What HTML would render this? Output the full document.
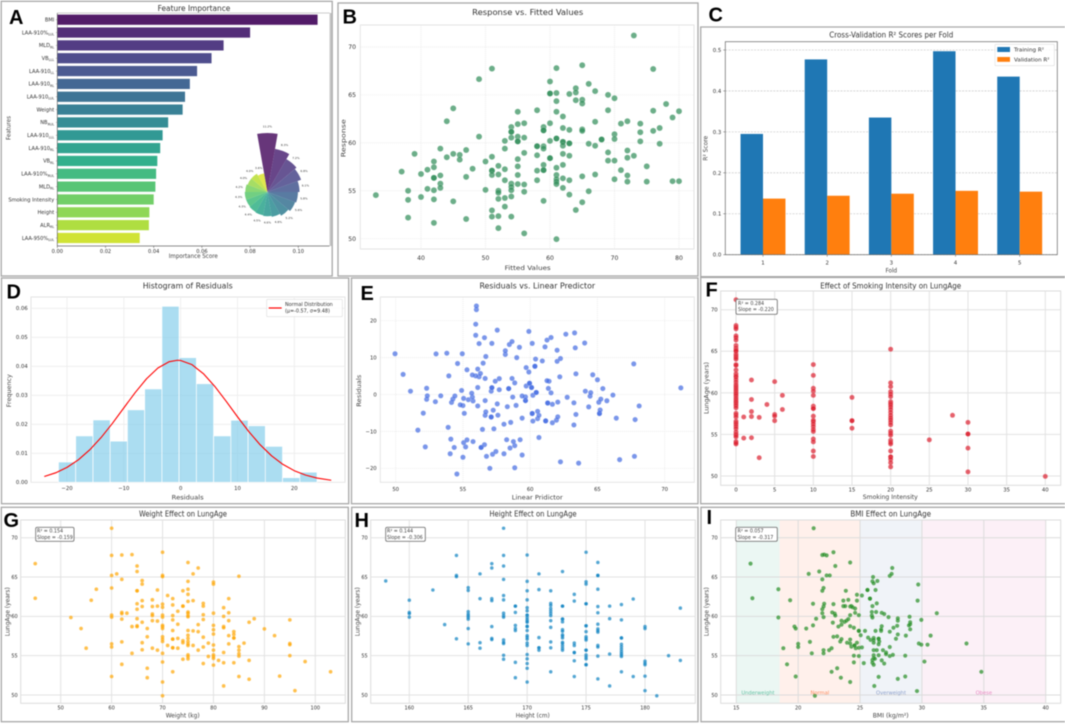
<!DOCTYPE html>
<html lang="en">
<head>
<meta charset="utf-8">
<title>Lung age model figure</title>
<style>
html,body{margin:0;padding:0;background:#fff;}
svg{display:block;filter:blur(0.45px);}
text{font-family:"DejaVu Sans","Liberation Sans",sans-serif;fill:#333;}
.letter{font-family:"Liberation Sans",sans-serif;font-weight:bold;font-size:20px;fill:#000;}
.frame{fill:none;stroke:#a8a8a8;stroke-width:1.3;}
.title{font-size:8px;text-anchor:middle;}
.axl{font-size:6.2px;text-anchor:middle;fill:#444;}
.note{font-size:4.8px;fill:#444;}
.box{fill:#fff;stroke:#777;stroke-width:.9;}
</style>
</head>
<body>
<svg id="figure" xmlns="http://www.w3.org/2000/svg" width="1065" height="724" viewBox="0 0 1065 724">
<rect x="0" y="0" width="1065" height="724" fill="#fff"/>

<g>
  <rect class="frame" x="1.2" y="1.3" width="331" height="274.7"/>
  <rect x="329.6" y="13" width="2" height="233" fill="#c4c4c4"/>
  <g id="plot-a"></g>
  <g id="plot-a-inset"></g>
  <text class="letter" x="9" y="24">A</text>
  <text class="title" x="194" y="10.8" textLength="72.7" lengthAdjust="spacingAndGlyphs">Feature Importance</text>
  <text class="axl" x="193.3" y="258" textLength="49" lengthAdjust="spacingAndGlyphs">Importance Score</text>
  <text class="axl" transform="translate(10.5,128) rotate(-90)" textLength="24" lengthAdjust="spacingAndGlyphs">Features</text>
</g>

<g>
  <rect class="frame" x="338" y="3" width="360" height="273"/>
  <g id="plot-b"></g>
  <text class="letter" x="342.5" y="23.5">B</text>
  <text class="title" x="527.7" y="15" textLength="111" lengthAdjust="spacingAndGlyphs">Response vs. Fitted Values</text>
  <text class="axl" x="527.7" y="270" textLength="46" lengthAdjust="spacingAndGlyphs">Fitted Values</text>
  <text class="axl" transform="translate(345.7,138.3) rotate(-90)" textLength="38" lengthAdjust="spacingAndGlyphs">Response</text>
</g>

<g>
  <path class="frame" d="M1065 27H700.7V276.6H1065"/>
  <g id="plot-c"></g>
  <text class="letter" x="708.5" y="21.7">C</text>
  <text class="title" x="891.3" y="37.7" textLength="124" lengthAdjust="spacingAndGlyphs">Cross-Validation R² Scores per Fold</text>
  <text class="axl" x="891.3" y="272.7" textLength="11.7" lengthAdjust="spacingAndGlyphs">Fold</text>
  <text class="axl" transform="translate(707.3,148.3) rotate(-90)" textLength="25" lengthAdjust="spacingAndGlyphs">R² Score</text>
  <g>
    <rect x="995" y="44.3" width="59.3" height="21.4" rx="1" fill="#fff" fill-opacity=".85" stroke="#ddd" stroke-width=".6"/>
    <rect x="997.3" y="47" width="12.7" height="5" fill="#1f77b4"/>
    <text x="1014" y="51.7" font-size="5.6">Training R²</text>
    <rect x="997.3" y="57" width="12.7" height="4.8" fill="#ff7f0e"/>
    <text x="1014" y="61.3" font-size="5.6">Validation R²</text>
  </g>
</g>

<g>
  <rect class="frame" x="1.5" y="278" width="347.2" height="225.7"/>
  <g id="plot-d"></g>
  <text class="letter" x="6.5" y="298.3">D</text>
  <text class="title" x="187.7" y="288.7" textLength="90" lengthAdjust="spacingAndGlyphs">Histogram of Residuals</text>
  <text class="axl" x="187.7" y="499.3" textLength="32" lengthAdjust="spacingAndGlyphs">Residuals</text>
  <text class="axl" transform="translate(11,390.7) rotate(-90)" textLength="33" lengthAdjust="spacingAndGlyphs">Frequency</text>
  <g>
    <rect x="266.7" y="299.3" width="75.6" height="17.4" rx="1" fill="#fff" fill-opacity=".9" stroke="#ddd" stroke-width=".6"/>
    <line x1="268.7" x2="281.7" y1="308" y2="308" stroke="#f00" stroke-width="1.2"/>
    <text x="285" y="306" font-size="4.9">Normal Distribution</text>
    <text x="285" y="312.7" font-size="4.9">(μ=-0.57, σ=9.48)</text>
  </g>
</g>

<g>
  <rect class="frame" x="351.5" y="278" width="346.5" height="225.7"/>
  <g id="plot-e"></g>
  <text class="letter" x="360.5" y="300">E</text>
  <text class="title" x="537.3" y="288.7" textLength="115.7" lengthAdjust="spacingAndGlyphs">Residuals vs. Linear Predictor</text>
  <text class="axl" x="537.3" y="499.3" textLength="51" lengthAdjust="spacingAndGlyphs">Linear Pridictor</text>
  <text class="axl" transform="translate(361,390.7) rotate(-90)" textLength="32" lengthAdjust="spacingAndGlyphs">Residuals</text>
</g>

<g>
  <path class="frame" d="M1065 277.5H700.7V503.7H1065"/>
  <g id="plot-f"></g>
  <text class="letter" x="705.5" y="296.7">F</text>
  <text class="title" x="890.7" y="288.3" textLength="141" lengthAdjust="spacingAndGlyphs">Effect of Smoking Intensity on LungAge</text>
  <text class="axl" x="890.3" y="499" textLength="55" lengthAdjust="spacingAndGlyphs">Smoking Intensity</text>
  <text class="axl" transform="translate(708.7,388) rotate(-90)" textLength="52" lengthAdjust="spacingAndGlyphs">LungAge (years)</text>
  <g>
    <rect class="box" x="736" y="299.3" width="41.3" height="15" rx="1.5"/>
    <text class="note" x="738" y="304.9">R² = 0.284</text>
    <text class="note" x="738" y="311">Slope = -0.220</text>
  </g>
</g>

<g>
  <rect class="frame" x="1.3" y="507.3" width="347" height="214.4"/>
  <g id="plot-g"></g>
  <text class="letter" x="3.5" y="527">G</text>
  <text class="title" x="183" y="516.7" textLength="88" lengthAdjust="spacingAndGlyphs">Weight Effect on LungAge</text>
  <text class="axl" x="182.7" y="717.3" textLength="34" lengthAdjust="spacingAndGlyphs">Weight (kg)</text>
  <text class="axl" transform="translate(9.6,611.7) rotate(-90)" textLength="49" lengthAdjust="spacingAndGlyphs">LungAge (years)</text>
  <g>
    <rect class="box" x="35.7" y="527.3" width="38.3" height="14" rx="1.5"/>
    <text class="note" x="37" y="532.4" font-size="4.5">R² = 0.154</text>
    <text class="note" x="37" y="538.9">Slope = -0.159</text>
  </g>
</g>

<g>
  <rect class="frame" x="351.7" y="507.3" width="346.3" height="214.4"/>
  <g id="plot-h"></g>
  <text class="letter" x="354.5" y="527">H</text>
  <text class="title" x="533" y="516.7" textLength="87.3" lengthAdjust="spacingAndGlyphs">Height Effect on LungAge</text>
  <text class="axl" x="532.7" y="717.3" textLength="34" lengthAdjust="spacingAndGlyphs">Height (cm)</text>
  <text class="axl" transform="translate(359.6,611.7) rotate(-90)" textLength="49" lengthAdjust="spacingAndGlyphs">LungAge (years)</text>
  <g>
    <rect class="box" x="385.7" y="527.3" width="39.6" height="14" rx="1.5"/>
    <text class="note" x="387" y="532.4">R² = 0.144</text>
    <text class="note" x="387" y="538.9">Slope = -0.306</text>
  </g>
</g>

<g>
  <path class="frame" d="M1065 507.3H701V721.7H1065"/>
  <g id="plot-i"></g>
  <text class="letter" x="706.5" y="524">I</text>
  <text class="title" x="890.7" y="516.7" textLength="80.7" lengthAdjust="spacingAndGlyphs">BMI Effect on LungAge</text>
  <text class="axl" x="890.7" y="717.3" textLength="36" lengthAdjust="spacingAndGlyphs">BMI (kg/m²)</text>
  <text class="axl" transform="translate(708.7,611.7) rotate(-90)" textLength="49" lengthAdjust="spacingAndGlyphs">LungAge (years)</text>
  <g>
    <rect class="box" x="735.7" y="527.3" width="41.6" height="14" rx="1.5"/>
    <text class="note" x="737.5" y="532.4">R² = 0.057</text>
    <text class="note" x="737.5" y="538.9">Slope = -0.317</text>
  </g>
</g>
</svg>

<script>
/* ---------- panel A data ---------- */
const featureNames = ["BMI","LAA-910%","MLD","VB","LAA-910","LAA-910","LAA-910","Weight","NB","LAA-910","LAA-910","VB","LAA-910%","MLD","Smoking Intensity","Height","ALR","LAA-950%"];
const featureSubs = ["","LUL","RL","LLL","LL","RL","LUL","","RUL","LLL","RL","RL","RUL","RL","","","RL","LUL"];
const featureImportance = [0.108,0.080,0.069,0.064,0.058,0.055,0.053,0.052,0.046,0.0437,0.0427,0.0415,0.041,0.0407,0.040,0.0382,0.038,0.0342];
const importanceTicks = [0,0.02,0.04,0.06,0.08,0.10];
const importanceTickLabels = ["0.00","0.02","0.04","0.06","0.08","0.10"];
const rosePercents = [11.2,8.3,7.2,6.8,6.1,5.8,5.6,5.2,4.8,4.6,4.5,4.4,4.3,4.3,4.2,4.0,4.0,3.6];

/* ---------- panel B data ---------- */
const fittedTicks = [40,50,60,70,80];
const ageTicks = [50,55,60,65,70];
const bFitted = [33,37,38,38,38,39,40,40,41,41,
42,42,42,42,42,42,42,43,43,43,43,44,44,45,45,45,46,46,47,47,47,48,49,49,50,50,
51,51,51,51,51,51,51,52,52,52,52,52,52,52,53,53,53,53,53,53,
54,54,54,54,54,54,54,54,54,55,55,55,55,55,55,55,55,55,56,56,56,56,56,56,
58,58,58,58,58,58,59,59,59,59,59,59,59,59,59,60,60,60,60,60,60,60,
61,61,61,61,61,61,61,61,61,61,61,61,62,62,62,62,62,62,62,62,62,
63,63,63,63,63,63,63,64,64,64,64,65,65,65,65,65,65,65,66,66,66,67,67,67,67,68,68,
69,69,69,69,70,70,70,70,70,71,71,72,72,72,72,72,73,73,74,74,74,75,75,76,76,76,77,77,78,79,79,80,80];
const bResponse = [54.55,57,55,54.05,52.2,58.85,56.75,54.35,57.2,55.2,
58.05,57.45,56.35,56.35,55.05,54.1,51.65,59.4,56.6,55.75,55.3,62.25,58.5,63.6,58.85,53.9,58.75,58.25,59.25,56.45,52.05,57.3,66.65,60.65,58.05,55.1,
67.75,58.55,57.1,57.1,56.65,52.95,52.3,57.6,56.7,55,54.8,54.15,52.35,51.1,60.2,59.4,57.25,56.1,54.25,53.35,
61.65,61.15,61.15,60.55,55.75,55.4,55.05,54.4,52.3,63.25,61.95,60.65,60.15,60.15,58.3,57.55,56.65,55.7,62.05,60.55,58.95,55.65,54.9,50.55,
63.4,59.65,59.65,58.7,57.1,56.1,61.65,61.3,61.3,59.65,59.4,57.7,57.15,57.15,53.95,66.4,65.15,65.15,62.05,60.2,58.4,58.4,
67.8,65.2,64.35,63.25,60.45,60.45,57.4,56.65,56.2,55.95,55.7,49.95,62.75,61.55,60.1,60.1,59.7,58.85,57.7,56.3,55.3,
65.1,61.35,59.95,59.95,58.65,56.1,54.6,65.7,65.25,64.45,53,68.1,64.5,64.1,61.4,61.25,56.5,53.8,66.15,59.9,54.95,65.4,62.2,59.7,56.7,60.35,60.35,
65,63.4,59,58.15,64.65,60.9,60.4,58.15,56.2,62,57.15,62.25,59.2,58.45,56.6,55.95,71.2,58.65,62,61.1,60.15,57.55,55.95,67.7,63.35,61.25,61.55,59.9,64.05,62.65,56,63.3,56];

/* ---------- panel C data ---------- */
const folds = [1,2,3,4,5];
const trainingR2 = [0.295,0.477,0.335,0.497,0.435];
const validationR2 = [0.137,0.144,0.149,0.156,0.154];
const r2Ticks = [0,0.1,0.2,0.3,0.4,0.5];
const r2TickLabels = ["0.0","0.1","0.2","0.3","0.4","0.5"];

/* ---------- panel D data ---------- */
const residualBinEdges = [-21.5,-18.47,-15.43,-12.4,-9.37,-6.33,-3.3,-0.27,2.77,5.8,8.83,11.87,14.9,17.93,20.97,24];
const residualFrequency = [0.007,0.016,0.0215,0.0142,0.025,0.0322,0.0607,0.043,0.034,0.016,0.0214,0.0195,0.0124,0.0016,0.0035];
const normalCurveX = [-24,-22,-20,-18,-16,-14,-12,-10,-8,-6,-4,-2,-0.57,0,2,4,6,8,10,12,14,16,18,20,22,24,26.5];
const normalCurveY = [0.00199,0.00327,0.00515,0.00776,0.01119,0.01543,0.02035,0.02566,0.03095,0.03571,0.03942,0.0416,0.04208,0.042,0.04057,0.03746,0.03309,0.02796,0.0226,0.01747,0.01292,0.00913,0.00618,0.004,0.00247,0.00146,0.00071];
const residualXTicks = [-20,-10,0,10,20];
const residualXTickLabels = ["−20","−10","0","10","20"];
const frequencyTicks = [0,0.01,0.02,0.03,0.04,0.05,0.06];
const frequencyTickLabels = ["0.00","0.01","0.02","0.03","0.04","0.05","0.06"];

/* ---------- panel E data ---------- */
const predictorTicks = [50,55,60,65,70];
const residualYTicks = [-20,-10,0,10,20];
const residualYTickLabels = ["−20","−10","0","10","20"];
const ePredictor = [54.55,57,55,54.05,52.2,58.85,56.75,54.35,57.2,55.2,
58.05,57.45,56.35,56.35,55.05,54.1,51.65,59.4,56.6,55.75,55.3,62.25,58.5,63.6,58.85,53.9,58.75,58.25,59.25,56.45,52.05,57.3,66.65,60.65,58.05,55.1,
67.75,58.55,57.1,57.1,56.65,52.95,52.3,57.6,56.7,55,54.8,54.15,52.35,51.1,60.2,59.4,57.25,56.1,54.25,53.35,
61.65,61.15,61.15,60.55,55.75,55.4,55.05,54.4,52.3,63.25,61.95,60.65,60.15,60.15,58.3,57.55,56.65,55.7,62.05,60.55,58.95,55.65,54.9,50.55,
63.4,59.65,59.65,58.7,57.1,56.1,61.65,61.3,61.3,59.65,59.4,57.7,57.15,57.15,53.95,66.4,65.15,65.15,62.05,60.2,58.4,58.4,
67.8,65.2,64.35,63.25,60.45,60.45,57.4,56.65,56.2,55.95,55.7,49.95,62.75,61.55,60.1,60.1,59.7,58.85,57.7,56.3,55.3,
65.1,61.35,59.95,59.95,58.65,56.1,54.6,65.7,65.25,64.45,53,68.1,64.5,64.1,61.4,61.25,56.5,53.8,66.15,59.9,54.95,65.4,62.2,59.7,56.7,60.35,60.35,
65,63.4,59,58.15,64.65,60.9,60.4,58.15,56.2,62,57.15,62.25,59.2,58.45,56.6,55.95,71.2,58.65,62,61.1,60.15,57.55,55.95,67.7,63.35,61.25,61.55,59.9,64.05,62.65,56,63.3,56];
const eResiduals = [-21.55,-20,-17,-16.05,-14.2,-19.85,-16.75,-14.35,-16.2,-14.2,
-16.05,-15.45,-14.35,-14.35,-13.05,-12.1,-9.65,-16.4,-13.6,-12.75,-12.3,-18.25,-14.5,-18.6,-13.85,-8.9,-12.75,-12.25,-12.25,-9.45,-5.05,-9.3,-17.65,-11.65,-8.05,-5.1,
-16.75,-7.55,-6.1,-6.1,-5.65,-1.95,-1.3,-5.6,-4.7,-3,-2.8,-2.15,-0.35,0.9,-7.2,-6.4,-4.25,-3.1,-1.25,-0.35,
-7.65,-7.15,-7.15,-6.55,-1.75,-1.4,-1.05,-0.4,1.7,-8.25,-6.95,-5.65,-5.15,-5.15,-3.3,-2.55,-1.65,-0.7,-6.05,-4.55,-2.95,0.35,1.1,5.45,
-5.4,-1.65,-1.65,-0.7,0.9,1.9,-2.65,-2.3,-2.3,-0.65,-0.4,1.3,1.85,1.85,5.05,-6.4,-5.15,-5.15,-2.05,-0.2,1.6,1.6,
-6.8,-4.2,-3.35,-2.25,0.55,0.55,3.6,4.35,4.8,5.05,5.3,11.05,-0.75,0.45,1.9,1.9,2.3,3.15,4.3,5.7,6.7,
-2.1,1.65,3.05,3.05,4.35,6.9,8.4,-1.7,-1.25,-0.45,11,-3.1,0.5,0.9,3.6,3.75,8.5,11.2,-0.15,6.1,11.05,1.6,4.8,7.3,10.3,7.65,7.65,
4,5.6,10,10.85,5.35,9.1,9.6,11.85,13.8,9,13.85,9.75,12.8,13.55,15.4,16.05,1.8,14.35,12,12.9,13.85,17.45,19.05,8.3,12.65,14.75,15.45,17.1,13.95,16.35,23,16.7,24];

/* ---------- panel F data ---------- */
const smokingTicks = [0,5,10,15,20,25,30,35,40];
const fSmoking = [0,0,0,0,0,0,0,0,0,0,
0,0,0,0,0,0,0,0,0,0,
0,0,0,0,0,0,0,0,0,0,
0,0,0,0,0,0,0,0,0,0,
0,0,0,0,0,0,0,0,0,0,
0,0,0,0,
1,1,2,2,2,2,2,3,3,4,5,5,5,5,6,6,
10,10,10,10,10,10,10,10,10,10,10,10,10,10,10,10,10,10,10,
15,15,15,15,
20,20,20,20,20,20,20,20,20,20,
20,20,20,20,20,20,20,20,20,20,
20,20,20,20,20,20,20,20,20,
25,28,30,30,30,30,30,40];
const fLungAge = [71.2,68.1,67.9,67.7,66.85,66.65,66.35,65.7,65.4,65.2,
65.1,65,64.65,64.45,64.25,64.05,63.4,63.3,62.75,62.3,
62.05,61.9,61.6,61.3,61,60.8,60.6,60.4,60.2,60,
59.85,59.65,59.4,59.2,59,58.85,58.65,58.45,58.2,57.55,
57.35,57.1,56.6,56.4,56.2,55.95,55.7,55.3,55.05,54.9,
54.7,54.15,54,53.85,
57.1,54.55,61.55,59.2,57.75,57.15,54.6,57.05,52.2,58.6,61.35,57.4,57.2,56.65,59.7,58,
63.4,62.1,60.55,60.2,59.7,58.4,58.15,58.1,57.2,56.7,56.55,56.25,55.95,55.6,55.35,54.45,54.1,53,52.35,
59.45,56.65,56.65,55.75,
65.25,61.2,60.75,60.15,59.85,59.55,58.95,58.75,58.55,58.3,
58,57.65,57.3,57,56.75,56.45,56.15,55.4,55.15,54.9,
54.3,54.05,53.85,53,52.3,52.3,52,51.6,51.1,
54.35,57.3,56.45,55.05,55.05,53.35,50.5,49.95];

/* ---------- panel G data ---------- */
const weightTicks = [50,60,70,80,90,100];
const gWeight = [45,45,52,54,55,56,57,
60,60,60,60,60,60,60,60,60,61,
62,62,62,62,62,62,62,63,64,64,64,
65,65,65,65,65,65,65,65,65,
66,66,66,66,66,66,66,67,67,67,67,
68,68,68,68,68,68,69,69,69,69,
70,70,70,70,70,70,70,70,70,70,70,70,70,70,70,70,70,71,71,
72,72,72,72,72,72,72,72,72,72,73,73,73,73,74,74,74,74,74,74,
75,75,75,75,75,75,75,75,75,75,75,75,75,75,75,75,75,75,
76,76,76,76,77,77,77,77,78,78,78,78,78,78,78,79,79,
80,80,80,80,80,80,80,80,80,80,80,80,81,
82,82,82,82,82,82,82,83,83,83,83,83,84,84,84,84,84,
85,85,85,85,85,85,86,87,87,87,88,90,92,93,95,95,95,95,96,98,103];
const gLungAge = [66.7,62.3,59.85,58.45,55.95,62.05,63.45,
71.2,67.75,65.2,63.6,60.15,59.9,56.5,56.1,52.35,65.4,
67.8,64.7,60.5,60.35,59.65,56.75,53.9,60.4,67.85,58.7,55.3,
66.4,65.7,63.25,63.25,61.6,60.9,59.7,58.8,58.7,
64.55,64.1,62,61.25,59.25,56.65,55.75,58.45,57.4,53.4,52.2,
62.1,61.25,60.3,60.1,59.45,55.95,63.35,61.3,59.4,55.7,
68.15,65.2,65.05,61.55,61.15,60.15,59.9,58.85,58.7,58.45,57.4,57.1,56.8,55.3,54.2,51.65,49.9,62.65,56.3,
62.25,61.45,60.1,59.55,58.2,57.1,57.1,56,56,52.95,60.65,59,57.2,55.95,63.25,61.3,61.3,56.9,56.65,54.55,
66.85,64.45,63.45,62.8,61.9,60.55,60.4,60.1,59.95,58.2,57.6,57.2,56.8,56.5,56.3,55.1,54.9,54.6,
65.4,62,58.15,56.3,66.15,58.95,58.05,55.7,61.65,61.3,60.2,59.6,57.35,56.1,54,56.6,54.9,
64.35,64.1,60.4,58.85,58.3,57.75,56.35,55.7,55.1,54.9,54.65,53.8,54.4,
61.1,60,58.7,58.55,55.4,54.1,51.15,62.25,60.45,59.45,57.55,56.5,58.05,57.7,57.25,57.25,54.1,
65.1,56.15,55.7,55.25,54.95,52.35,56.6,59.25,54.4,52,59.7,58.4,57.55,52.4,59.55,56.55,56.4,55,50.55,54.25,52.95];

/* ---------- panel H data ---------- */
const heightTicks = [160,165,170,175,180];
const hHeight = [158,160,160,160,160,162,163,164,164,164,164,
165,165,165,165,165,165,165,165,165,166,166,166,166,
167,167,167,167,167,167,167,
168,168,168,168,168,168,168,168,168,168,168,168,168,168,
169,169,169,169,169,169,169,169,
170,170,170,170,170,170,170,170,170,170,170,170,170,170,170,170,170,170,170,170,170,170,170,170,170,
171,171,171,171,171,171,
172,172,172,172,172,172,172,172,172,172,172,172,
173,173,173,173,173,173,173,173,173,173,173,173,173,173,173,173,
174,174,174,174,174,174,174,174,
175,175,175,175,175,175,175,175,175,175,175,175,175,175,175,175,175,175,
176,176,176,176,176,176,176,176,176,176,176,176,176,176,
177,177,177,177,
178,178,178,178,178,178,178,178,178,178,178,178,
179,179,180,180,180,180,180,180,180,181,182,183,183];
const hLungAge = [64.5,62.05,60.5,60.35,59.9,63.35,58.95,67.75,65.2,65.05,57.15,
63.65,63.3,60.6,60.3,60.1,59.9,59.65,58.45,56.5,65.4,62.25,56.65,55.95,
66.7,66.15,62.25,62,58.7,57.2,57.05,
71.2,67.75,66.4,64.7,62.65,62.1,60.4,60.1,59.9,57,56.7,56.55,55.05,54.55,
61.3,61.3,60.5,58.85,58.45,58.2,54.15,52.2,
67.8,64.45,63.25,62.1,61.1,60.7,60.15,60.15,59.85,59.6,59.4,59.25,58.75,58.7,58.2,57.55,57.35,57.1,56.6,56.3,55.15,54.6,54,53.4,51.65,
65.4,63.4,57.3,56,56,55.7,
63.25,61.65,61.4,61,60.7,60.4,60.1,59.45,58.6,56.75,56,52.95,
65.7,61.3,61.3,59.65,59.65,59.3,58.3,58.1,57.65,57.5,57.25,56.7,56.55,56.25,55.95,55.7,
62.8,61.95,56.6,56.3,55.4,55.4,54.35,52.35,
68.15,64.4,64.1,61.6,61.6,58.8,58.8,58.05,57.4,57.2,57,55.7,55.7,55.1,54.85,54.6,53.85,53.85,
66.85,65.2,65.2,63.45,61.25,60.45,59,58.4,58.2,58,56.3,56.1,54.95,52.05,
61.3,59.7,55.2,51.15,
61.5,59.55,57.25,57.25,56.45,56.15,55.85,55.55,55.3,55.1,54.9,52.95,
62.2,52.35,58.7,58.45,54.3,54.05,53.85,52.4,50.55,49.9,55,61.05,54.4];

/* ---------- panel I data ---------- */
const bmiTicks = [15,20,25,30,35,40];
const bmiCategoryNames = ["Underweight","Normal","Overweight","Obese"];
const bmiCategoryEdges = [15,18.5,25,30,40];
const iBmi = [16.15,16.3,18.4,18.4,18.8,19.1,19.35,19.7,19.8,19.8,
20,20,20.65,20.85,20.95,21.1,21.2,21.2,21.25,21.35,
21.45,21.7,21.95,22.1,22.3,21.95,22.05,21.95,21.95,22.05,
22.1,21.95,22.05,22.05,22.05,22.3,22.55,22.5,22.7,22.7,
22.75,22.8,22.85,22.85,22.85,22.95,23,23,23.15,23.15,
23.25,23.45,23.5,23.5,23.4,23.5,23.65,23.65,23.75,23.8,
23.85,23.9,23.95,24.05,24.05,24.2,24.2,24.2,24.2,24.2,
24.2,24.2,24.3,24.3,24.4,24.5,24.5,24.5,24.55,24.55,
24.6,24.6,24.75,24.75,24.75,24.65,24.9,24.9,24.9,24.9,
24.9,25.05,25.15,25.15,25.3,25.4,25.6,25.6,25.65,25.8,
25.8,25.85,26,26.05,26.1,25.95,25.95,26,26,26.1,
26.1,26.1,26.1,26.1,26.1,26,26,26.1,26.15,26.25,
26.25,26.3,26.35,26.35,26.2,26.4,26.5,26.5,26.55,26.5,
26.5,26.5,26.7,26.7,26.75,26.75,26.75,26.85,26.95,26.95,
27.1,27.1,27.3,27.4,27.4,27.4,27.4,27.55,27.6,27.65,
27.7,27.9,28,28.05,28.05,28.05,28.05,28.65,28.7,28.65,
29,29.05,29.05,28.95,29.05,29.6,29.65,29.7,29.75,29.95,
29.95,30.2,30.45,30.7,31.2,33.6,34.8];
const iLungAge = [66.7,62.3,63.45,59.85,55.95,53.9,62.05,58.7,58.45,52.35,
56.5,56.1,58.45,65.4,56.75,55.3,58.85,61.6,71.2,49.9,
59.7,65.7,67.8,67.85,67.75,64.7,63.6,63.25,60.9,61.25,
61.6,60.4,59.9,55.7,55.3,65.2,65.2,55.7,55.95,52.95,
60.5,59.2,68.15,61.55,57.4,60.35,60.1,66.4,53.4,57.45,
58.7,52.2,59.45,58.95,56.8,57.1,61.3,62,59.3,61.3,
63.25,59.45,56.65,59.65,62.1,61.25,60.15,58.75,66.85,51.65,
57.05,56.55,61.3,56.15,61.15,58.55,55,54.15,56.3,56.3,
61,60.45,62.75,62,56.65,55.95,60.15,58.15,58.15,56,
54.95,57.6,56.05,62.65,54.05,58.15,63.35,63.35,57.3,62.25,
62.25,57,64.45,65,64.2,60.55,60.1,59.85,61.3,57.25,
57,56.65,55.7,55.05,54.7,54.45,54.1,53.85,51.15,63.35,
58.15,60.55,61.65,55.7,54.6,64.5,57.15,57.15,56.8,56.45,
55.05,52.3,58.15,58.35,58.75,60.45,54.4,55.7,60.3,54,
55.4,55.2,59.9,56.1,58.05,65.15,54.95,65.4,66.15,55.1,
58.55,57.15,58.8,57.7,59.45,52.05,59.75,55,57.55,52.35,
59.95,59.25,59,58.85,58.35,50.5,62,64.05,56.55,56.4,
59.55,54.25,56.4,57.55,60.4,56.55,52.95];

/* ---------- helpers ---------- */
const SVG_NS = 'http://www.w3.org/2000/svg';
function el(tag, attrs, parent) {
  const e = document.createElementNS(SVG_NS, tag);
  for (const k in attrs) e.setAttribute(k, attrs[k]);
  parent.appendChild(e);
  return e;
}
function linear(d0, r0, d1, r1) {
  return function (v) { return r0 + (v - d0) * (r1 - r0) / (d1 - d0); };
}
function viridis(t) {
  const stops = [[68,1,84],[72,36,117],[65,68,135],[53,95,141],[42,120,142],[33,145,140],[34,168,132],[68,191,112],[122,209,81],[189,223,38],[253,231,37]];
  const p = Math.max(0, Math.min(0.9999, t)) * 10;
  const i = Math.floor(p), f = p - i;
  const c = stops[i].map(function (s, k) { return Math.round(s + (stops[i + 1][k] - s) * f); });
  return 'rgb(' + c.join(',') + ')';
}
function drawFrame(g, box, style) {
  const r = el('rect', {x: box.left, y: box.top, width: box.right - box.left, height: box.bottom - box.top, fill: style.bg || 'none', stroke: style.stroke, 'stroke-width': style.width}, g);
  
  
}
function drawXAxis(g, ticks, labels, sx, box, labelY, style) {
  ticks.forEach(function (t, i) {
    if (style.grid) {
      const ln = el('line', {x1: sx(t), x2: sx(t), y1: box.top, y2: box.bottom, stroke: style.grid, 'stroke-width': style.gridWidth, 'stroke-dasharray': style.dash || 'none'}, g);
      
      
    }
    if (style.tick) {
      const tk = el('line', {x1: sx(t), x2: sx(t), y1: box.bottom, y2: box.bottom + 2, stroke: '#555', 'stroke-width': 0.5}, g);
      
      
    }
    const lb = el('text', {x: sx(t), y: labelY, 'text-anchor': 'middle', 'font-size': style.font}, g);
    lb.textContent = labels ? labels[i] : String(t);
    
    
  });
}
function drawYAxis(g, ticks, labels, sy, box, labelX, style) {
  ticks.forEach(function (t, i) {
    if (style.grid) {
      const ln = el('line', {x1: box.left, x2: box.right, y1: sy(t), y2: sy(t), stroke: style.grid, 'stroke-width': style.gridWidth, 'stroke-dasharray': style.dash || 'none'}, g);
      
      
    }
    if (style.tick) {
      const tk = el('line', {x1: box.left - 2, x2: box.left, y1: sy(t), y2: sy(t), stroke: '#555', 'stroke-width': 0.5}, g);
      
      
    }
    const lb = el('text', {x: labelX, y: sy(t) + style.font * 0.36, 'text-anchor': 'end', 'font-size': style.font}, g);
    lb.textContent = labels ? labels[i] : String(t);
    
    
  });
}
function drawPoints(g, xs, ys, sx, sy, style) {
  const n = Math.min(xs.length, ys.length);
  for (let i = 0; i < n; i++) {
    const c = el('circle', {cx: sx(xs[i]), cy: sy(ys[i]), r: style.r, fill: style.color, 'fill-opacity': 0.7, stroke: '#fff', 'stroke-opacity': 0.5, 'stroke-width': style.edge}, g);
    
    
  }
}

/* ---------- panel A ---------- */
(function () {
  const g = document.getElementById('plot-a');
  const box = {left: 57.3, right: 329.5, top: 13, bottom: 246};
  const sx = linear(0, 57.3, 0.1, 298.3);
  const sy = function (i) { return 19.7 + i * 12.84; };
  const barH = 10.2;
  featureImportance.forEach(function (v, i) {
    const b = el('rect', {x: sx(0), y: sy(i) - barH / 2, width: sx(v) - sx(0), height: barH, fill: viridis((i + 0.5) / featureImportance.length * 0.95), 'fill-opacity': 0.93}, g);
    
    
    const t = el('text', {x: 54.3, y: sy(i) + 1.8, 'text-anchor': 'end', 'font-size': 5.1}, g);
    
    
    t.appendChild(document.createTextNode(featureNames[i]));
    if (featureSubs[i]) {
      const s = el('tspan', {'font-size': 3.4, dy: 1.2}, t);
      s.textContent = featureSubs[i];
    }
    const tk = el('line', {x1: box.left - 1.5, x2: box.left, y1: sy(i), y2: sy(i), stroke: '#777', 'stroke-width': 0.4}, g);
    
    
  });
  const sp = el('path', {d: 'M' + box.left + ' ' + box.top + 'V' + box.bottom + 'H' + box.right, fill: 'none', stroke: '#666', 'stroke-width': 0.7}, g);
  
  
  const tp = el('line', {x1: box.left, x2: box.right, y1: box.top, y2: box.top, stroke: '#bbb', 'stroke-width': 0.8}, g);
  
  
  drawXAxis(g, importanceTicks, importanceTickLabels, sx, box, 252.8, {font: 5.1, tick: true});

  const inset = document.getElementById('plot-a-inset');
  const cx = 267.4, cy = 192, pxPerPercent = 5.27, half = 10;
  rosePercents.forEach(function (p, i) {
    const mid = i * 360 / rosePercents.length;
    const r = p * pxPerPercent;
    const a0 = (mid - half) * Math.PI / 180, a1 = (mid + half) * Math.PI / 180, am = mid * Math.PI / 180;
    const d = 'M' + cx + ' ' + cy + 'L' + (cx + r * Math.sin(a0)) + ' ' + (cy - r * Math.cos(a0)) +
      'A' + r + ' ' + r + ' 0 0 1 ' + (cx + r * Math.sin(a1)) + ' ' + (cy - r * Math.cos(a1)) + 'Z';
    const w = el('path', {d: d, fill: viridis((i + 0.5) / rosePercents.length * 0.97), 'fill-opacity': 0.82}, inset);
    
    
    const lr = r + 6.5;
    const t = el('text', {x: cx + lr * Math.sin(am), y: cy - lr * Math.cos(am) + 1, 'text-anchor': 'middle', 'font-size': 2.9}, inset);
    t.textContent = p.toFixed(1) + '%';
    
    
  });
})();

/* ---------- panel B ---------- */
(function () {
  const g = document.getElementById('plot-b');
  const box = {left: 360.3, right: 694, top: 25, bottom: 249};
  const sx = linear(40, 421, 80, 679);
  const sy = linear(50, 238.7, 70, 47);
  drawFrame(g, box, {stroke: '#e2e2e2', width: 0.9});
  const st = {grid: '#e6e6e6', gridWidth: 0.7, dash: '1 1', font: 6.1};
  drawXAxis(g, fittedTicks, null, sx, box, 260, st);
  drawYAxis(g, ageTicks, null, sy, box, 356, st);
  drawPoints(g, bFitted, bResponse, sx, sy, {r: 3, color: '#2e8b57', edge: 0.3, name: 'fitted-point'});
})();

/* ---------- panel C ---------- */
(function () {
  const g = document.getElementById('plot-c');
  const box = {left: 725.3, right: 1057.3, top: 41.7, bottom: 254.7};
  const sx = linear(1, 763, 5, 1019.7);
  const sy = linear(0, 254.7, 0.5, 50);
  drawYAxis(g, r2Ticks, r2TickLabels, sy, box, 721.3, {grid: '#cfcfcf', gridWidth: 0.8, dash: '2 1.2', font: 5.4, tick: true});
  const w = sx(1.35) - sx(1);
  folds.forEach(function (f, i) {
    const a = el('rect', {x: sx(f) - w, y: sy(trainingR2[i]), width: w, height: sy(0) - sy(trainingR2[i]), fill: '#1f77b4'}, g);
    
    
    const b = el('rect', {x: sx(f), y: sy(validationR2[i]), width: w, height: sy(0) - sy(validationR2[i]), fill: '#ff7f0e'}, g);
    
    
  });
  drawXAxis(g, folds, null, sx, box, 264.7, {font: 5.4, tick: true});
  drawFrame(g, box, {stroke: '#666', width: 0.7});
})();

/* ---------- panel D ---------- */
(function () {
  const g = document.getElementById('plot-d');
  const box = {left: 31, right: 345, top: 297, bottom: 482.3};
  const sx = linear(-20, 67, 20, 294.3);
  const sy = linear(0, 482.3, 0.06, 308.3);
  drawFrame(g, box, {stroke: '#e2e2e2', width: 0.9});
  const st = {grid: '#ececec', gridWidth: 0.8, font: 5.3};
  drawXAxis(g, residualXTicks, residualXTickLabels, sx, box, 490, st);
  drawYAxis(g, frequencyTicks, frequencyTickLabels, sy, box, 27.7, st);
  residualFrequency.forEach(function (v, i) {
    const b = el('rect', {x: sx(residualBinEdges[i]), y: sy(v), width: sx(residualBinEdges[i + 1]) - sx(residualBinEdges[i]), height: sy(0) - sy(v), fill: '#87ceeb', 'fill-opacity': 0.7, stroke: '#fff', 'stroke-width': 0.7}, g);
    
    
  });
  const pts = normalCurveX.map(function (x, i) { return sx(x) + ',' + sy(normalCurveY[i]); }).join(' ');
  const curve = el('polyline', {points: pts, fill: 'none', stroke: '#f00', 'stroke-width': 1.1, 'stroke-linejoin': 'round'}, g);
  
  
})();

/* ---------- panel E ---------- */
(function () {
  const g = document.getElementById('plot-e');
  const box = {left: 380.3, right: 694.3, top: 297, bottom: 482.3};
  const sx = linear(50, 395.7, 70, 664.7);
  const sy = linear(-20, 468.3, 20, 320.7);
  drawFrame(g, box, {stroke: '#e2e2e2', width: 0.9});
  const st = {grid: '#e6e6e6', gridWidth: 0.7, dash: '1 1', font: 5.3};
  drawXAxis(g, predictorTicks, null, sx, box, 491, st);
  drawYAxis(g, residualYTicks, residualYTickLabels, sy, box, 376.7, st);
  drawPoints(g, ePredictor, eResiduals, sx, sy, {r: 2.6, color: '#4169e1', edge: 0.3, name: 'residual-point'});
})();

/* ---------- panel F ---------- */
(function () {
  const g = document.getElementById('plot-f');
  const box = {left: 720.7, right: 1060.7, top: 291, bottom: 485.3};
  const sx = linear(0, 736, 40, 1045.3);
  const sy = linear(50, 476, 70, 309.7);
  drawFrame(g, box, {stroke: '#dcdcdc', width: 1});
  const st = {grid: '#e2e2e2', gridWidth: 1, font: 5.3};
  drawXAxis(g, smokingTicks, null, sx, box, 491.7, st);
  drawYAxis(g, ageTicks, null, sy, box, 717.7, st);
  drawPoints(g, fSmoking, fLungAge, sx, sy, {r: 2.5, color: '#dc1e2e', edge: 0.25, name: 'smoking-point'});
})();

/* ---------- panels G, H ---------- */
(function () {
  const g = document.getElementById('plot-g');
  const box = {left: 20.7, right: 345.3, top: 520, bottom: 703.3};
  const sx = linear(50, 60.7, 100, 315.3);
  const sy = linear(50, 695, 70, 537.7);
  drawFrame(g, box, {stroke: '#dcdcdc', width: 1});
  const st = {grid: '#e2e2e2', gridWidth: 1, font: 5};
  drawXAxis(g, weightTicks, null, sx, box, 709.6, st);
  drawYAxis(g, ageTicks, null, sy, box, 17.7, st);
  drawPoints(g, gWeight, gLungAge, sx, sy, {r: 1.9, color: '#ffa500', edge: 0.2, name: 'weight-point'});
})();
(function () {
  const g = document.getElementById('plot-h');
  const box = {left: 370.7, right: 695.3, top: 520, bottom: 703.3};
  const sx = linear(160, 409.3, 180, 645);
  const sy = linear(50, 695, 70, 537.7);
  drawFrame(g, box, {stroke: '#dcdcdc', width: 1});
  const st = {grid: '#e2e2e2', gridWidth: 1, font: 5};
  drawXAxis(g, heightTicks, null, sx, box, 709.6, st);
  drawYAxis(g, ageTicks, null, sy, box, 367.7, st);
  drawPoints(g, hHeight, hLungAge, sx, sy, {r: 1.8, color: '#0a80c0', edge: 0.2, name: 'height-point'});
})();

/* ---------- panel I ---------- */
(function () {
  const g = document.getElementById('plot-i');
  const box = {left: 720.7, right: 1060.7, top: 520, bottom: 703.3};
  const sx = linear(15, 736.3, 40, 1045.7);
  const sy = linear(50, 695, 70, 537.7);
  const bandColors = ['#66c2a5', '#fc8d62', '#8da0cb', '#e78ac3'];
  bmiCategoryNames.forEach(function (nm, i) {
    const b = el('rect', {x: sx(bmiCategoryEdges[i]), y: box.top, width: sx(bmiCategoryEdges[i + 1]) - sx(bmiCategoryEdges[i]), height: box.bottom - box.top, fill: bandColors[i], 'fill-opacity': 0.13}, g);
    
    
  });
  drawFrame(g, box, {stroke: '#dcdcdc', width: 1});
  const st = {grid: '#dcdcdc', gridWidth: 1, font: 5};
  drawXAxis(g, bmiTicks, null, sx, box, 709.6, st);
  drawYAxis(g, ageTicks, null, sy, box, 717.7, st);
  drawPoints(g, iBmi, iLungAge, sx, sy, {r: 2.1, color: '#228b22', edge: 0.2, name: 'bmi-point'});
  bmiCategoryNames.forEach(function (nm, i) {
    const cxv = (bmiCategoryEdges[i] + bmiCategoryEdges[i + 1]) / 2;
    const t = el('text', {x: sx(cxv), y: 694.7, 'text-anchor': 'middle', 'font-size': 5.2, style: 'fill:' + bandColors[i]}, g);
    t.textContent = nm;
    
    
  });
})();
</script>
</body>
</html>
